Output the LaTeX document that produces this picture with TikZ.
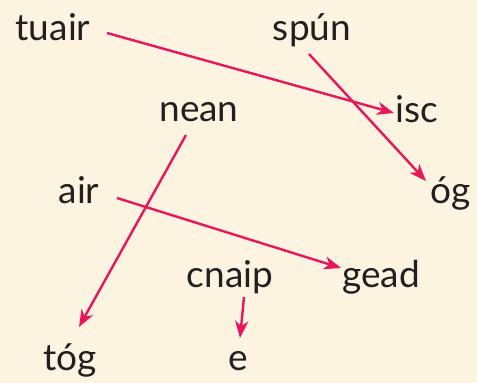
\documentclass[tikz,border=0pt]{standalone}
\usepackage{fontspec}
\setmainfont{Lato}
\usetikzlibrary{arrows.meta}
\definecolor{bg}{RGB}{253,243,225}
\definecolor{lnk}{RGB}{232,22,90}
\definecolor{ink}{RGB}{35,31,32}
\begin{document}
\begin{tikzpicture}[x=1pt,y=-1pt,
  word/.style={anchor=base,inner sep=0pt,text=ink,font=\fontsize{37}{40}\selectfont},
  link/.style={draw=lnk,line width=2.4pt,-{Stealth[length=17pt,width=13pt,inset=5pt]}}]
\fill[bg] (0,0) rectangle (477,383);
\useasboundingbox (0,0) rectangle (477,383);
\node[word] (tuair) at (53,40) {tuair};
\node[word] (spun) at (312,40) {spún};
\node[word] (nean) at (199,121) {nean};
\node[word] (isc) at (417,122) {isc};
\node[word] (air) at (79,203) {air};
\node[word] (og) at (451,203) {óg};
\node[word] (cnaip) at (230,287) {cnaip};
\node[word] (gead) at (381,287) {gead};
\node[word] (tog) at (70,370) {tóg};
\node[word] (e) at (238,370) {e};
\coordinate (a1) at (107,33); \coordinate (b1) at (394,113);
\coordinate (a2) at (309,54); \coordinate (b2) at (426,181);
\coordinate (a3) at (186,135); \coordinate (b3) at (79,327);
\coordinate (a4) at (117,198); \coordinate (b4) at (341,268);
\coordinate (a5) at (244,297); \coordinate (b5) at (240,338);
\draw[link] (a1) -- (b1);
\draw[link] (a2) -- (b2);
\draw[link] (a3) -- (b3);
\draw[link] (a4) -- (b4);
\draw[link] (a5) -- (b5);
\end{tikzpicture}
\end{document}
